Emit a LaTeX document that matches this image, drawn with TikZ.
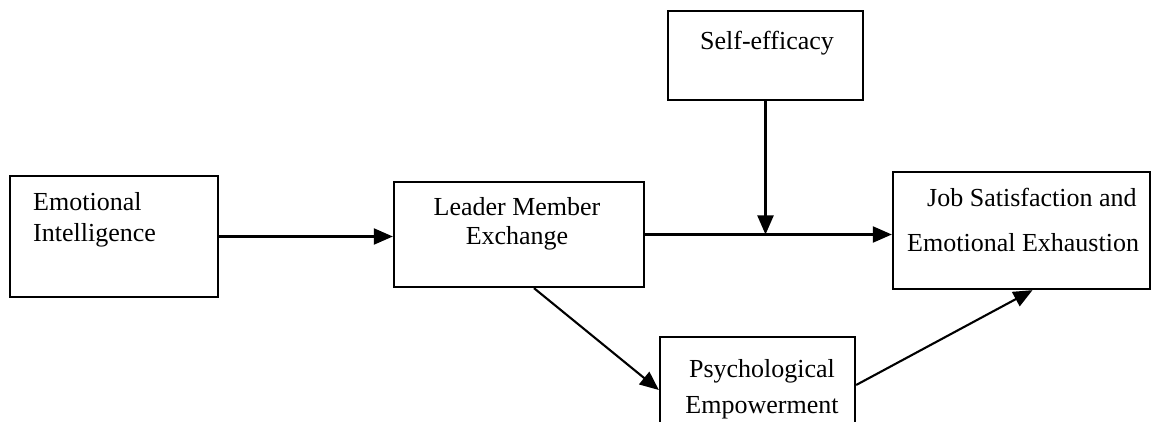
\documentclass[tikz,border=0pt]{standalone}
\usepackage{fontspec}
\setmainfont{Liberation Serif}
\usetikzlibrary{arrows.meta}
\begin{document}
\begin{tikzpicture}[x=1pt,y=-1pt,
  box/.style={draw=black,line width=2.3pt,rectangle,inner sep=0pt,fill=white},
  lbl/.style={inner sep=0pt,font=\fontsize{26}{33}\selectfont},
  conn/.style={line width=2.1pt,-{Triangle[length=19pt,width=16pt]}}]
\useasboundingbox (0,0) rectangle (1162,422);
\clip (0,0) rectangle (1162,422);
% boxes
\node[box,minimum width=208pt,minimum height=121pt] (EI) at (114,236.5) {};
\node[box,minimum width=250pt,minimum height=105pt] (LMX) at (519,234.5) {};
\node[box,minimum width=195pt,minimum height=89pt] (SE) at (765.5,55.5) {};
\node[box,minimum width=257pt,minimum height=117pt] (JS) at (1021.5,230.5) {};
\node[box,minimum width=195pt,minimum height=106pt] (PE) at (757.5,390) {};
% texts
\node[lbl,anchor=west] (t1) at (33,202) {Emotional};
\node[lbl,anchor=west] (t2) at (33,235) {Intelligence};
\node[lbl] (t3) at (517,207) {Leader Member};
\node[lbl] (t4) at (517,238) {Exchange};
\node[lbl] (t5) at (767,43) {Self-efficacy};
\node[lbl,anchor=west] (t6) at (927,197) {Job Satisfaction and};
\node[lbl,anchor=west] (t7) at (907,243) {Emotional Exhaustion};
\node[lbl] (t8) at (762,371) {Psychological};
\node[lbl] (t9) at (762,408) {Empowerment};
% connectors
\coordinate (m) at (SE.south |- LMX.east);
\draw[conn] (EI.east) -- (EI.east -| LMX.west);
\draw[conn] (LMX.east) -- (LMX.east -| JS.west);
\draw[conn] (SE.south) -- (m);
\draw[conn] ([xshift=15pt]LMX.south) -- (PE.west);
\draw[conn] ([yshift=5pt]PE.east) -- ([xshift=11pt]JS.south);
\end{tikzpicture}
\end{document}
